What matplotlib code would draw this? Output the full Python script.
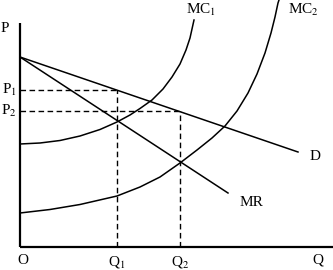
import matplotlib
matplotlib.use("Agg")
import matplotlib.pyplot as plt

plt.rcParams["font.family"] = "Liberation Serif"
plt.rcParams["mathtext.fontset"] = "stix"

# Quantities / prices (origin at O)
q1 = 97
q2 = 160
p1 = 157
p2 = 136

# Demand and marginal revenue (straight lines)
d_q = [0, 278]
d_p = [190, 95]
mr_q = [0, 208]
mr_p = [190, 54]

# Marginal cost curves
mc1_q = [0, 20, 40, 60, 80, 97, 110, 120, 132, 143, 152, 160, 166, 170, 174]
mc1_p = [103, 104, 106.5, 111, 117.5, 125, 132, 138.5, 147, 158, 170, 183, 197, 209, 227]
mc2_q = [0, 30, 60, 97, 120, 140, 160, 177, 192, 205, 217, 228, 237, 245, 251, 255, 258, 259]
mc2_p = [34, 37.5, 42.5, 51, 60, 70, 84, 97, 109, 121, 136, 154, 173, 194, 214, 230, 244, 247]

fig = plt.figure(figsize=(3.33, 2.70), dpi=100)
ax = fig.add_axes([0, 0, 1, 1])
ax.set_xlim(-20, 313)
ax.set_ylim(-23, 247)
ax.axis("off")

# axes
ax.plot([0, 0], [0, 224], color="black", lw=1.6, solid_capstyle="butt")
ax.plot([0, 313], [0, 0], color="black", lw=1.6, solid_capstyle="butt")

ax.plot(d_q, d_p, color="black", lw=1.1)
ax.plot(mr_q, mr_p, color="black", lw=1.1)
ax.plot(mc1_q, mc1_p, color="black", lw=1.1)
ax.plot(mc2_q, mc2_p, color="black", lw=1.1)

dash = dict(color="black", lw=1.0, linestyle=(0, (4, 2.5)))
ax.plot([0, q1], [p1, p1], **dash)
ax.plot([q1, q1], [0, p1], **dash)
ax.plot([0, q2], [p2, p2], **dash)
ax.plot([q2, q2], [0, p2], **dash)

fs = 11
ax.text(-15, 218, "P", fontsize=fs, ha="center", va="center")
ax.text(-11, p1, "P$_1$", fontsize=fs, ha="center", va="center")
ax.text(-11, p2, "P$_2$", fontsize=fs, ha="center", va="center")
ax.text(3, -13, "O", fontsize=fs, ha="center", va="center")
ax.text(q1, -15, "Q$_1$", fontsize=fs, ha="center", va="center")
ax.text(q2, -15, "Q$_2$", fontsize=fs, ha="center", va="center")
ax.text(298, -13, "Q", fontsize=fs, ha="center", va="center")
ax.text(295, 90, "D", fontsize=fs, ha="center", va="center")
ax.text(231, 45, "MR", fontsize=fs, ha="center", va="center")
ax.text(181, 237, "MC$_1$", fontsize=fs, ha="center", va="center")
ax.text(283, 237, "MC$_2$", fontsize=fs, ha="center", va="center")

fig.savefig("out.png", dpi=100)
